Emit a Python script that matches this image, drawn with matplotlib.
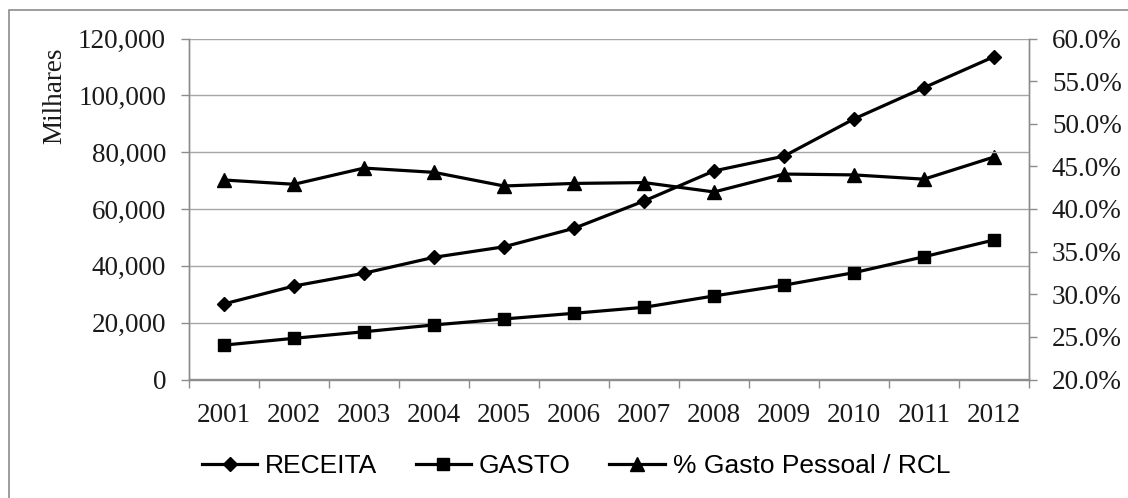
"""Receita, gasto e % gasto pessoal / RCL, 2001-2012."""

import matplotlib
matplotlib.use("Agg")
import matplotlib.pyplot as plt
from matplotlib.patches import Rectangle
from matplotlib.ticker import FuncFormatter, FixedLocator

anos = ["2001", "2002", "2003", "2004", "2005", "2006",
        "2007", "2008", "2009", "2010", "2011", "2012"]
receita = [26600, 32900, 37400, 43000, 46700, 53200,
           62800, 73400, 78600, 91700, 102700, 113600]
gasto = [12100, 14500, 16800, 19200, 21300, 23300,
         25400, 29400, 33200, 37600, 43200, 49100]
pct_gasto_rcl = [43.4, 42.9, 44.8, 44.3, 42.7, 43.0,
                 43.1, 42.0, 44.1, 44.0, 43.5, 46.1]

serif = ["Liberation Serif", "DejaVu Serif"]
sans = ["Liberation Sans", "DejaVu Sans"]
grey = "#8c8c8c"

fig = plt.figure(figsize=(11.28, 4.98), dpi=100)
ax = fig.add_axes([189 / 1128, 118.5 / 498, 840 / 1128, 341 / 498])
ax2 = ax.twinx()

x = list(range(len(anos)))
lw = 2.3
l1, = ax.plot(x, receita, color="black", lw=lw, marker="D", ms=7, label="RECEITA")
l2, = ax.plot(x, gasto, color="black", lw=lw, marker="s", ms=8.5, label="GASTO")
l3, = ax2.plot(x, pct_gasto_rcl, color="black", lw=lw, marker="^", ms=9.5,
               label="% Gasto Pessoal / RCL")

ax.set_xlim(-0.5, len(anos) - 0.5)
ax.set_ylim(0, 120000)
ax.set_yticks(range(0, 120001, 20000))
ax.yaxis.set_major_formatter(FuncFormatter(lambda v, p: f"{v:,.0f}"))
ax2.set_ylim(20, 60)
ax2.set_yticks(range(20, 61, 5))
ax2.yaxis.set_major_formatter(FuncFormatter(lambda v, p: f"{v:.1f}%"))

ax.set_xticks(x)
ax.set_xticklabels(anos)
ax.xaxis.set_minor_locator(FixedLocator([i - 0.5 for i in range(len(anos) + 1)]))
ax.tick_params(axis="x", which="major", length=0, pad=17)
ax.tick_params(axis="x", which="minor", length=6, width=1, color=grey)
ax.tick_params(axis="y", length=5.5, width=1, color=grey, pad=11)
ax2.tick_params(axis="y", length=5.5, width=1, color=grey, pad=11)

for a in (ax, ax2):
    for lab in a.get_xticklabels() + a.get_yticklabels():
        lab.set_family(serif)
        lab.set_fontsize(19.5)
        lab.set_color("#1a1a1a")
    a.spines["top"].set_visible(False)
    for s in ("left", "right", "bottom"):
        a.spines[s].set_color(grey)
        a.spines[s].set_linewidth(1)

ax.grid(axis="y", color="#a6a6a6", lw=1)
ax.set_axisbelow(True)
ax.set_zorder(ax2.get_zorder() + 1)
ax.patch.set_visible(False)

fig.text(55 / 1128, 1 - 96 / 498, "Milhares", rotation=90, ha="center",
         va="center", family=serif, fontsize=19.5, color="#1a1a1a")

fig.legend(handles=[l1, l2, l3], loc="center", bbox_to_anchor=(576 / 1128, 32 / 498),
           ncol=3, frameon=False, handlelength=2.1, handletextpad=0.3,
           columnspacing=1.45, prop={"family": sans, "size": 19})

fig.patches.append(Rectangle((9 / 1128, -0.05), 1.1, 1.05 - 10 / 498,
                             transform=fig.transFigure, fill=False,
                             edgecolor=grey, lw=1.2))

fig.savefig("out.png", dpi=100)
